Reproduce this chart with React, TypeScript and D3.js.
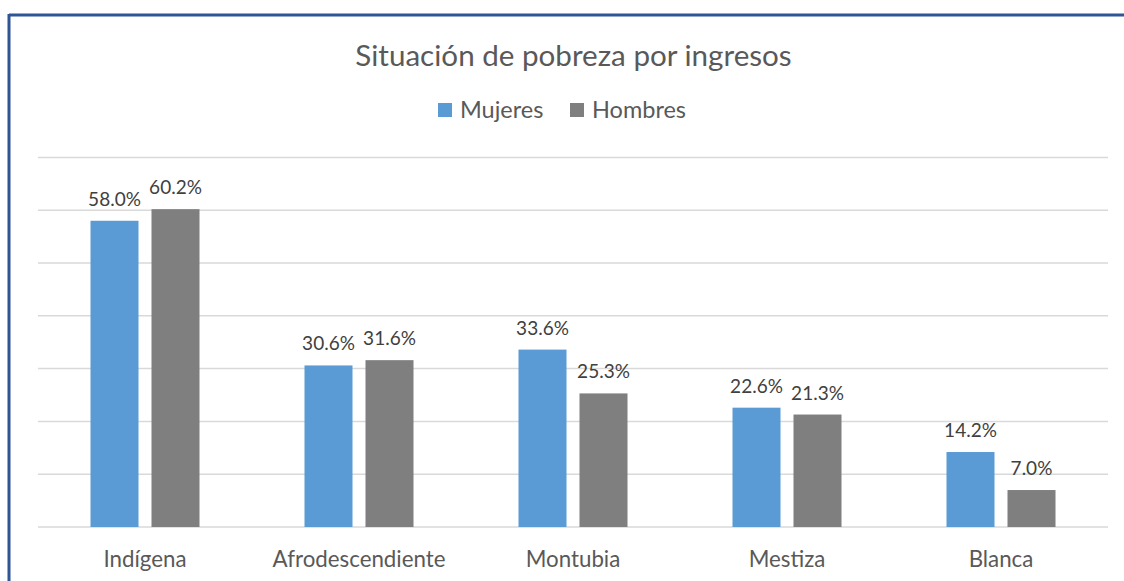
import React from "react";
import * as d3 from "d3";

const categories = ["Indígena", "Afrodescendiente", "Montubia", "Mestiza", "Blanca"];
const seriesNames = ["Mujeres", "Hombres"];
const mujeres = [58.0, 30.6, 33.6, 22.6, 14.2];
const hombres = [60.2, 31.6, 25.3, 21.3, 7.0];
const yTicks = [0, 10, 20, 30, 40, 50, 60, 70];
const colors = ["#5B9BD5", "#7F7F7F"];

const W = 1124;
const H = 581;
const FONT = "Lato, 'Open Sans', sans-serif";

export default function App() {
  const plotLeft = 38;
  const plotRight = 1108;
  const baseY = 527;
  const topY = 157.4;

  const x = d3.scaleBand<string>().domain(categories).range([plotLeft, plotRight]).paddingInner(0).paddingOuter(0);
  const y = d3.scaleLinear().domain([0, 70]).range([baseY, topY]);
  const barW = 48;
  const gap = 13;
  const series = [mujeres, hombres];

  return (
    <svg
      width={W}
      height={H}
      style={{ position: "absolute", left: 0, top: 0, background: "#fff" }}
      fontFamily={FONT}
    >
      <rect x={0} y={0} width={W} height={H} fill="#fff" />
      {/* border */}
      <line x1={9} y1={15} x2={W} y2={15} stroke="#2F5597" strokeWidth={3} />
      <line x1={9} y1={14} x2={9} y2={H} stroke="#2F5597" strokeWidth={3} />

      <text x={573.5} y={66} textAnchor="middle" fontSize={29.6} fill="#595959">
        Situación de pobreza por ingresos
      </text>

      {/* legend */}
      {seriesNames.map((s, i) => {
        const lx = [438, 570][i];
        return (
          <g key={s}>
            <rect x={lx} y={103} width={14} height={14} fill={colors[i]} />
            <text x={lx + 22} y={118} fontSize={23.5} fill="#595959">
              {s}
            </text>
          </g>
        );
      })}

      {/* grid */}
      {yTicks.map((t) => (
        <line key={t} x1={plotLeft} x2={plotRight} y1={y(t)} y2={y(t)} stroke="#D9D9D9" strokeWidth={1.5} />
      ))}

      {categories.map((c, ci) => {
        const center = (x(c) as number) + x.bandwidth() / 2;
        return (
          <g key={c}>
            {series.map((vals, si) => {
              const bx = si === 0 ? center - gap / 2 - barW : center + gap / 2;
              const v = vals[ci];
              return (
                <g key={si}>
                  <rect x={bx} y={y(v)} width={barW} height={baseY - y(v)} fill={colors[si]} />
                  <text x={bx + barW / 2} y={y(v) - 15} textAnchor="middle" fontSize={19} fill="#404040">
                    {v.toFixed(1)}%
                  </text>
                </g>
              );
            })}
            <text x={center} y={567} textAnchor="middle" fontSize={22.3} fill="#595959">
              {c}
            </text>
          </g>
        );
      })}
    </svg>
  );
}
